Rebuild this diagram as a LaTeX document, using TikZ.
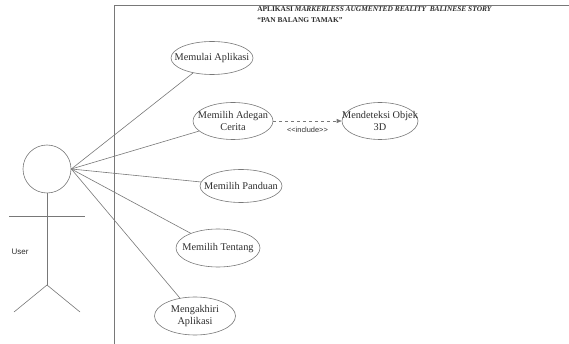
\documentclass[tikz,border=0pt]{standalone}
\usepackage{fontspec}
\setmainfont{Liberation Serif}
\setsansfont{Liberation Sans}
\usetikzlibrary{shapes.geometric, arrows.meta, positioning}
\definecolor{umlGray}{RGB}{120, 120, 120}
\definecolor{umlText}{RGB}{45, 45, 45}

\begin{document}
\begin{tikzpicture}[x=1pt, y=-1pt, >=Stealth, line width=0.6pt,
  uc/.style={ellipse, draw=umlGray, inner sep=-20pt, minimum width=82pt,
             minimum height=33pt, align=center, text=umlText,
             font=\fontsize{10.3}{11.3}\selectfont},
  assoc/.style={draw=umlGray},
  incl/.style={draw=umlGray, dashed, -{Triangle[length=5pt, width=4pt]}}]

  \useasboundingbox (0,0) rectangle (569,344);

  % system boundary
  \draw[umlGray] (114,344) -- (114,5) -- (569,5);
  \node[anchor=north west, inner sep=0pt, text=umlText,
        font=\fontsize{7.4}{11}\selectfont\bfseries, align=left] (title) at (257,6)
    {APLIKASI \textit{MARKERLESS AUGMENTED REALITY\ \ BALINESE STORY}\\
     ``PAN BALANG TAMAK''};

  % actor
  \node[circle, draw=umlGray, minimum size=48pt, inner sep=0pt] (head) at (47,169) {};
  \coordinate (hip) at (47,285);
  \draw[umlGray] (head.south) -- (hip);
  \draw[umlGray] (9,216) -- (85,216);
  \draw[umlGray] (14,312) -- (hip) -- (80,312);
  \node[font=\sffamily\fontsize{8}{9}\selectfont, text=umlText] (user) at (20,252) {User};

  % use cases
  \node[uc] (mulai)   at (212,58)  {Memulai Aplikasi};
  \node[uc, minimum width=80pt, minimum height=37pt] (adegan) at (233,121) {Memilih Adegan\\Cerita};
  \node[uc, minimum width=76pt, minimum height=37pt] (deteksi) at (380,121) {Mendeteksi Objek\\3D};
  \node[uc] (panduan) at (241,186) {Memilih Panduan};
  \node[uc, minimum width=84pt, minimum height=38pt] (tentang) at (218,248) {Memilih Tentang};
  \node[uc, minimum width=81pt, minimum height=38pt] (akhiri)  at (195,316) {Mengakhiri\\Aplikasi};

  \foreach \u in {mulai, adegan, panduan, tentang, akhiri}
    \draw[assoc] (head.east) -- (\u);

  \draw[incl] (adegan) -- (deteksi)
    node[midway, below=3pt, font=\sffamily\fontsize{7.4}{8}\selectfont, text=umlText]
    {{<}{<}include{>}{>}};

\end{tikzpicture}
\end{document}
